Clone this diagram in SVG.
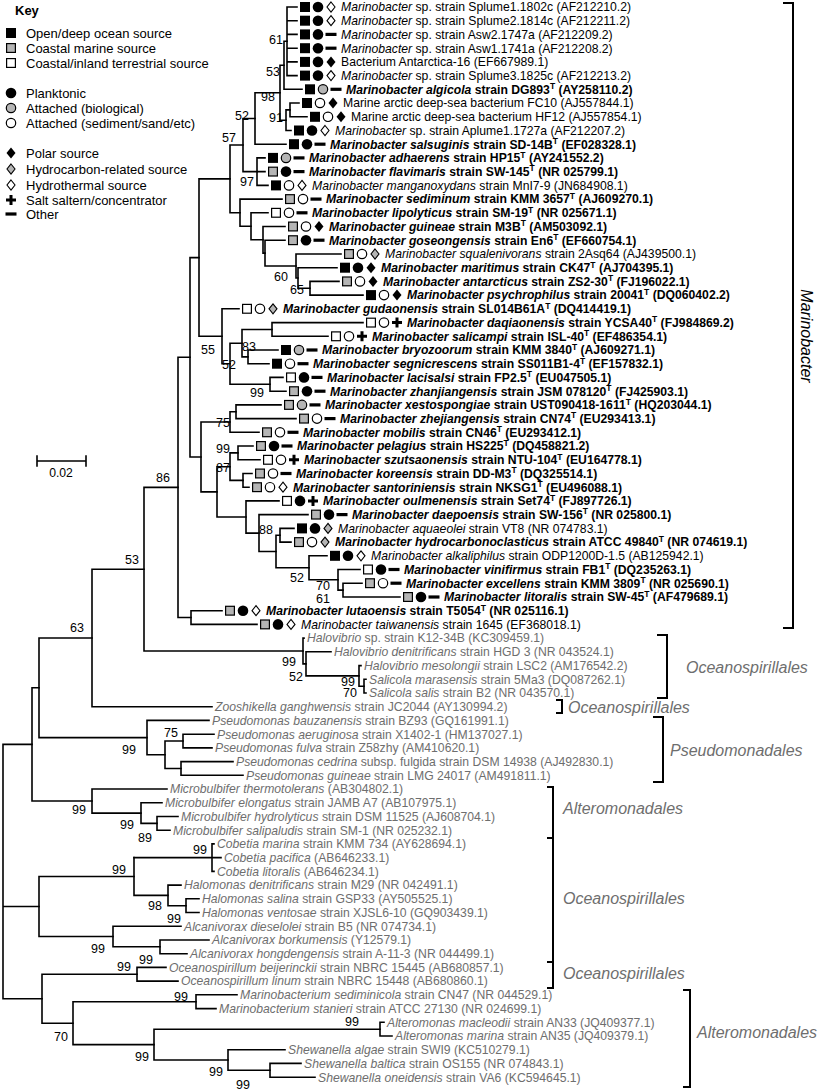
<svg xmlns="http://www.w3.org/2000/svg" width="820" height="1091" viewBox="0 0 820 1091">
<style>
.t{font-family:"Liberation Sans",Arial,sans-serif;font-size:12.2px;fill:#000}
.b{font-weight:bold}
.i{font-style:italic}
.g{fill:#6e6e6e}
.sp{font-size:8.5px}
.bs{font-family:"Liberation Sans",Arial,sans-serif;font-size:12.5px;text-anchor:end;fill:#000}
.ord{font-family:"Liberation Sans",Arial,sans-serif;font-size:16px;font-style:italic;fill:#6e6e6e}
.ln{fill:none;stroke:#000;stroke-width:1.6;stroke-linecap:square}
.br{fill:none;stroke:#000;stroke-width:2}
.key{font-family:"Liberation Sans",Arial,sans-serif;font-size:13px;fill:#000}
</style>
<defs>
<rect id="sB" x="-5" y="-5" width="10" height="10" fill="#000"/>
<rect id="sG" x="-4.4" y="-4.4" width="8.8" height="8.8" fill="#b5b5b5" stroke="#000" stroke-width="1.2"/>
<rect id="sW" x="-4.4" y="-4.4" width="8.8" height="8.8" fill="#fff" stroke="#000" stroke-width="1.2"/>
<circle id="cB" r="5.3" fill="#000"/>
<circle id="cG" r="4.7" fill="#b5b5b5" stroke="#000" stroke-width="1.2"/>
<circle id="cW" r="4.7" fill="#fff" stroke="#000" stroke-width="1.2"/>
<path id="dB" d="M0,-5.5L4.5,0L0,5.5L-4.5,0Z" fill="#000"/>
<path id="dG" d="M0,-5L4,0L0,5L-4,0Z" fill="#b5b5b5" stroke="#000" stroke-width="1.1"/>
<path id="dW" d="M0,-5L4,0L0,5L-4,0Z" fill="#fff" stroke="#000" stroke-width="1.1"/>
<rect id="ds" x="-5.5" y="-1.6" width="11" height="3.2" fill="#000"/>
<path id="pl" d="M-5,0H5M0,-5V5" stroke="#000" stroke-width="3" fill="none"/>
</defs>
<rect width="820" height="1091" fill="#fff"/>

<g id="key">
<text class="key b" x="15" y="15" font-size="14">Key</text>
<use href="#sB" x="11" y="33"/><text class="key" x="26" y="38">Open/deep ocean source</text>
<use href="#sG" x="11" y="48"/><text class="key" x="26" y="53">Coastal marine source</text>
<use href="#sW" x="11" y="63"/><text class="key" x="26" y="68">Coastal/inland terrestrial source</text>
<use href="#cB" x="11" y="93"/><text class="key" x="26" y="98">Planktonic</text>
<use href="#cG" x="11" y="108"/><text class="key" x="26" y="113">Attached (biological)</text>
<use href="#cW" x="11" y="123"/><text class="key" x="26" y="128">Attached (sediment/sand/etc)</text>
<use href="#dB" x="11" y="153"/><text class="key" x="26" y="158">Polar source</text>
<use href="#dG" x="11" y="169"/><text class="key" x="26" y="174">Hydrocarbon-related source</text>
<use href="#dW" x="11" y="185"/><text class="key" x="26" y="190">Hydrothermal source</text>
<use href="#pl" x="11" y="200"/><text class="key" x="26" y="205">Salt saltern/concentrator</text>
<use href="#ds" x="11" y="214"/><text class="key" x="26" y="219">Other</text>
</g>

<g id="scale">
<path class="ln" d="M37,456V466M37,461H86M86,456V466"/>
<text class="t" x="61" y="477" text-anchor="middle">0.02</text>
</g>

<g id="connectors" class="ln">
<path d="M287,7V75.6M287,7H297M287,20.7H297M287,34.4H297M287,48.2H297M287,61.9H297M287,75.6H297"/>
<path d="M284,41.3V89.3M284,41.3H287M284,89.3H302"/>
<path d="M290,103V116.8M290,103H299M290,116.8H307"/>
<path d="M286,109.9V130.5M286,109.9H290M286,130.5H291"/>
<path d="M280,65.3V120.2M280,65.3H284M280,120.2H286"/>
<path d="M255,92.8V144.2M255,92.8H280M255,144.2H286"/>
<path d="M257,157.9V185.4M257,157.9H265M257,171.6H265M257,185.4H268"/>
<path d="M243,118.5V171.6M243,118.5H255M243,171.6H257"/>
<path d="M230,145V212.7M230,145H243M230,212.7H240"/>
<path d="M240,199.1V226.3M240,199.1H282M240,226.3H251"/>
<path d="M251,212.8V239.8M251,212.8H268M251,239.8H263"/>
<path d="M263,226.5V253.1M263,226.5H285M263,253.1H265"/>
<path d="M265,240.2V266M265,240.2H285M265,266H296"/>
<path d="M296,254V278M296,254H341M296,278H298"/>
<path d="M298,267.7V288.3M298,267.7H337M298,288.3H310"/>
<path d="M310,281.4V295.1M310,281.4H339M310,295.1H363"/>
<path d="M272,322.6V336.3M272,322.6H363M272,336.3H328"/>
<path d="M248,350V363.7M248,350H278M248,363.7H269"/>
<path d="M242,329.5V356.9M242,329.5H272M242,356.9H248"/>
<path d="M270,377.4V391.2M270,377.4H283M270,391.2H286"/>
<path d="M230,343.2V384.3M230,343.2H242M230,384.3H270"/>
<path d="M222,308.8V363.8M222,308.8H239M222,363.8H230"/>
<path d="M199,178.9V336.3M199,178.9H230M199,336.3H222"/>
<path d="M236,404.9V418.6M236,404.9H281M236,418.6H296"/>
<path d="M230,411.8V432.3M230,411.8H236M230,432.3H259"/>
<path d="M238,446V459.8M238,446H253M238,459.8H260"/>
<path d="M243,473.5V487.2M243,473.5H252M243,487.2H249"/>
<path d="M230,452.9V480.4M230,452.9H238M230,480.4H243"/>
<path d="M280,528.4V542.1M280,528.4H294M280,542.1H291"/>
<path d="M343,583.2V597M343,583.2H362M343,597H400"/>
<path d="M338,569.5V590.1M338,569.5H360M338,590.1H343"/>
<path d="M309,555.8V579.8M309,555.8H327M309,579.8H338"/>
<path d="M276,535.3V567.8M276,535.3H280M276,567.8H309"/>
<path d="M259,514.6V551.5M259,514.6H308M259,551.5H276"/>
<path d="M246,500.9V533.1M246,500.9H279M246,533.1H259"/>
<path d="M217,466.7V517M217,466.7H230M217,517H246"/>
<path d="M201,422V491.9M201,422H230M201,491.9H217"/>
<path d="M190,257.6V457M190,257.6H199M190,457H201"/>
<path d="M191,610.7V624.4M191,610.7H222M191,624.4H257"/>
<path d="M178,357.3V617.5M178,357.3H190M178,617.5H191"/>
<path d="M364,679.3V693M364,679.3H366M364,693H366"/>
<path d="M359,665.6V686.2M359,665.6H361M359,686.2H364"/>
<path d="M306,651.8V675.9M306,651.8H331M306,675.9H359"/>
<path d="M303,638.1V663.9M303,638.1H304M303,663.9H306"/>
<path d="M144,487.4V651M144,487.4H178M144,651H303"/>
<path d="M92,569.2V706.7M92,569.2H144M92,706.7H212"/>
<path d="M183,734.2V747.9M183,734.2H214M183,747.9H212"/>
<path d="M181,761.6V775.3M181,761.6H233M181,775.3H243"/>
<path d="M165,741V768.5M165,741H183M165,768.5H181"/>
<path d="M147,720.4V754.7M147,720.4H209M147,754.7H165"/>
<path d="M39,638V737.6M39,638H92M39,737.6H147"/>
<path d="M157,816.5V830.2M157,816.5H178M157,830.2H170"/>
<path d="M141,802.8V823.4M141,802.8H162M141,823.4H157"/>
<path d="M92,789V813.1M92,789H167M92,813.1H141"/>
<path d="M32,687.8V801M32,687.8H39M32,801H92"/>
<path d="M212,843.9V871.4M212,843.9H214M134,857.6H221M212,871.4H214"/>
<path d="M186,898.8V912.5M186,898.8H199M186,912.5H199"/>
<path d="M168,885.1V905.7M168,885.1H181M168,905.7H186"/>
<path d="M134,857.6V895.4M134,895.4H168"/>
<path d="M160,940V953.7M160,940H209M160,953.7H187"/>
<path d="M113,926.2V946.8M113,926.2H181M113,946.8H160"/>
<path d="M39,876.5V936.5M39,876.5H134M39,936.5H113"/>
<path d="M137,967.4V981.1M137,967.4H166M137,981.1H178"/>
<path d="M196,994.8V1008.6M196,994.8H237M196,1008.6H216"/>
<path d="M380,1022.3V1036M380,1022.3H384M380,1036H392"/>
<path d="M270,1063.4V1077.2M270,1063.4H301M270,1077.2H315"/>
<path d="M228,1049.7V1070.3M228,1049.7H285M228,1070.3H270"/>
<path d="M154,1029.2V1060M154,1029.2H380M154,1060H228"/>
<path d="M73,1001.7V1044.6M73,1001.7H196M73,1044.6H154"/>
<path d="M42,974.3V1023.2M42,974.3H137M42,1023.2H73"/>
<path d="M3,744.4V998.7M3,744.4H32M3,906.5H39M3,998.7H42"/>
</g>

<g id="bootstrap">
<text class="bs" x="283" y="44">61</text>
<text class="bs" x="280" y="76">53</text>
<text class="bs" x="275" y="101">98</text>
<text class="bs" x="283" y="122">91</text>
<text class="bs" x="249" y="120">52</text>
<text class="bs" x="236" y="142">57</text>
<text class="bs" x="254" y="186">97</text>
<text class="bs" x="288" y="281">60</text>
<text class="bs" x="304" y="294">65</text>
<text class="bs" x="215" y="354">55</text>
<text class="bs" x="256" y="351">83</text>
<text class="bs" x="236" y="369">52</text>
<text class="bs" x="264" y="397">99</text>
<text class="bs" x="230" y="427">75</text>
<text class="bs" x="230" y="453">99</text>
<text class="bs" x="230" y="472">87</text>
<text class="bs" x="273" y="534">88</text>
<text class="bs" x="304" y="582">52</text>
<text class="bs" x="330" y="590">70</text>
<text class="bs" x="330" y="603">61</text>
<text class="bs" x="170" y="482">86</text>
<text class="bs" x="139" y="564">53</text>
<text class="bs" x="84" y="632">63</text>
<text class="bs" x="296" y="666">99</text>
<text class="bs" x="303" y="681">52</text>
<text class="bs" x="355" y="685.5" font-size="10.5">99</text>
<text class="bs" x="357" y="697.3" font-size="10.5">70</text>
<text class="bs" x="136" y="754">99</text>
<text class="bs" x="178" y="737">75</text>
<text class="bs" x="86" y="814">99</text>
<text class="bs" x="134" y="829">99</text>
<text class="bs" x="152" y="842">89</text>
<text class="bs" x="207" y="854">99</text>
<text class="bs" x="126" y="874">99</text>
<text class="bs" x="162" y="910">98</text>
<text class="bs" x="181" y="923">99</text>
<text class="bs" x="105" y="953">99</text>
<text class="bs" x="153" y="964">99</text>
<text class="bs" x="131" y="971">99</text>
<text class="bs" x="188" y="1001">99</text>
<text class="bs" x="359" y="1026">99</text>
<text class="bs" x="68" y="1041">70</text>
<text class="bs" x="149" y="1061">99</text>
<text class="bs" x="223" y="1076">99</text>
<text class="bs" x="250" y="1089">99</text>
</g>

<g id="r0" transform="translate(341,7)"><use href="#sB" x="-36"/><use href="#cB" x="-23"/><use href="#dW" x="-10"/><text class="t" y="4.3"><tspan class="i">Marinobacter</tspan> sp. strain Splume1.1802c (AF212210.2)</text></g>
<g id="r1" transform="translate(341,20.7)"><use href="#sB" x="-36"/><use href="#cB" x="-23"/><use href="#dW" x="-10"/><text class="t" y="4.3"><tspan class="i">Marinobacter</tspan> sp. strain Splume2.1814c (AF212211.2)</text></g>
<g id="r2" transform="translate(341,34.4)"><use href="#sB" x="-36"/><use href="#cB" x="-23"/><use href="#ds" x="-10"/><text class="t" y="4.3"><tspan class="i">Marinobacter</tspan> sp. strain Asw2.1747a (AF212209.2)</text></g>
<g id="r3" transform="translate(341,48.2)"><use href="#sB" x="-36"/><use href="#cB" x="-23"/><use href="#ds" x="-10"/><text class="t" y="4.3"><tspan class="i">Marinobacter</tspan> sp. strain Asw1.1741a (AF212208.2)</text></g>
<g id="r4" transform="translate(341,61.9)"><use href="#sB" x="-36"/><use href="#cB" x="-23"/><use href="#dB" x="-10"/><text class="t" y="4.3">Bacterium Antarctica-16 (EF667989.1)</text></g>
<g id="r5" transform="translate(341,75.6)"><use href="#sB" x="-36"/><use href="#cB" x="-23"/><use href="#dW" x="-10"/><text class="t" y="4.3"><tspan class="i">Marinobacter</tspan> sp. strain Splume3.1825c (AF212213.2)</text></g>
<g id="r6" transform="translate(346,89.3)"><use href="#sB" x="-36"/><use href="#cG" x="-23"/><use href="#ds" x="-10"/><text class="t b" y="4.3"><tspan class="i">Marinobacter algicola</tspan> strain DG893<tspan class="sp" dy="-4.5">T</tspan><tspan dy="4.5"> (AY258110.2)</tspan></text></g>
<g id="r7" transform="translate(343,103)"><use href="#sB" x="-36"/><use href="#cW" x="-23"/><use href="#dB" x="-10"/><text class="t" y="4.3">Marine arctic deep-sea bacterium FC10 (AJ557844.1)</text></g>
<g id="r8" transform="translate(351,116.8)"><use href="#sB" x="-36"/><use href="#cW" x="-23"/><use href="#dB" x="-10"/><text class="t" y="4.3">Marine arctic deep-sea bacterium HF12 (AJ557854.1)</text></g>
<g id="r9" transform="translate(335,130.5)"><use href="#sB" x="-36"/><use href="#cB" x="-23"/><use href="#dW" x="-10"/><text class="t" y="4.3"><tspan class="i">Marinobacter</tspan> sp. strain Aplume1.1727a (AF212207.2)</text></g>
<g id="r10" transform="translate(330,144.2)"><use href="#sB" x="-36"/><use href="#cB" x="-23"/><use href="#ds" x="-10"/><text class="t b" y="4.3"><tspan class="i">Marinobacter salsuginis</tspan> strain SD-14B<tspan class="sp" dy="-4.5">T</tspan><tspan dy="4.5"> (EF028328.1)</tspan></text></g>
<g id="r11" transform="translate(309,157.9)"><use href="#sB" x="-36"/><use href="#cG" x="-23"/><use href="#ds" x="-10"/><text class="t b" y="4.3"><tspan class="i">Marinobacter adhaerens</tspan> strain HP15<tspan class="sp" dy="-4.5">T</tspan><tspan dy="4.5"> (AY241552.2)</tspan></text></g>
<g id="r12" transform="translate(309,171.6)"><use href="#sG" x="-36"/><use href="#cB" x="-23"/><use href="#ds" x="-10"/><text class="t b" y="4.3"><tspan class="i">Marinobacter flavimaris</tspan> strain SW-145<tspan class="sp" dy="-4.5">T</tspan><tspan dy="4.5"> (NR 025799.1)</tspan></text></g>
<g id="r13" transform="translate(312,185.4)"><use href="#sB" x="-36"/><use href="#cW" x="-23"/><use href="#dW" x="-10"/><text class="t" y="4.3"><tspan class="i">Marinobacter manganoxydans</tspan> strain MnI7-9 (JN684908.1)</text></g>
<g id="r14" transform="translate(326,199.1)"><use href="#sG" x="-36"/><use href="#cW" x="-23"/><use href="#ds" x="-10"/><text class="t b" y="4.3"><tspan class="i">Marinobacter sediminum</tspan> strain KMM 3657<tspan class="sp" dy="-4.5">T</tspan><tspan dy="4.5"> (AJ609270.1)</tspan></text></g>
<g id="r15" transform="translate(312,212.8)"><use href="#sW" x="-36"/><use href="#cW" x="-23"/><use href="#ds" x="-10"/><text class="t b" y="4.3"><tspan class="i">Marinobacter lipolyticus</tspan> strain SM-19<tspan class="sp" dy="-4.5">T</tspan><tspan dy="4.5"> (NR 025671.1)</tspan></text></g>
<g id="r16" transform="translate(329,226.5)"><use href="#sG" x="-36"/><use href="#cW" x="-23"/><use href="#dB" x="-10"/><text class="t b" y="4.3"><tspan class="i">Marinobacter guineae</tspan> strain M3B<tspan class="sp" dy="-4.5">T</tspan><tspan dy="4.5"> (AM503092.1)</tspan></text></g>
<g id="r17" transform="translate(329,240.2)"><use href="#sG" x="-36"/><use href="#cB" x="-23"/><use href="#ds" x="-10"/><text class="t b" y="4.3"><tspan class="i">Marinobacter goseongensis</tspan> strain En6<tspan class="sp" dy="-4.5">T</tspan><tspan dy="4.5"> (EF660754.1)</tspan></text></g>
<g id="r18" transform="translate(385,254)"><use href="#sG" x="-36"/><use href="#cW" x="-23"/><use href="#dG" x="-10"/><text class="t" y="4.3"><tspan class="i">Marinobacter squalenivorans</tspan> strain 2Asq64 (AJ439500.1)</text></g>
<g id="r19" transform="translate(381,267.7)"><use href="#sB" x="-36"/><use href="#cB" x="-23"/><use href="#dB" x="-10"/><text class="t b" y="4.3"><tspan class="i">Marinobacter maritimus</tspan> strain CK47<tspan class="sp" dy="-4.5">T</tspan><tspan dy="4.5"> (AJ704395.1)</tspan></text></g>
<g id="r20" transform="translate(383,281.4)"><use href="#sG" x="-36"/><use href="#cW" x="-23"/><use href="#dB" x="-10"/><text class="t b" y="4.3"><tspan class="i">Marinobacter antarcticus</tspan> strain ZS2-30<tspan class="sp" dy="-4.5">T</tspan><tspan dy="4.5"> (FJ196022.1)</tspan></text></g>
<g id="r21" transform="translate(407,295.1)"><use href="#sB" x="-36"/><use href="#cW" x="-23"/><use href="#dB" x="-10"/><text class="t b" y="4.3"><tspan class="i">Marinobacter psychrophilus</tspan> strain 20041<tspan class="sp" dy="-4.5">T</tspan><tspan dy="4.5"> (DQ060402.2)</tspan></text></g>
<g id="r22" transform="translate(283,308.8)"><use href="#sW" x="-36"/><use href="#cW" x="-23"/><use href="#dG" x="-10"/><text class="t b" y="4.3"><tspan class="i">Marinobacter gudaonensis</tspan> strain SL014B61A<tspan class="sp" dy="-4.5">T</tspan><tspan dy="4.5"> (DQ414419.1)</tspan></text></g>
<g id="r23" transform="translate(407,322.6)"><use href="#sW" x="-36"/><use href="#cW" x="-23"/><use href="#pl" x="-10"/><text class="t b" y="4.3"><tspan class="i">Marinobacter daqiaonensis</tspan> strain YCSA40<tspan class="sp" dy="-4.5">T</tspan><tspan dy="4.5"> (FJ984869.2)</tspan></text></g>
<g id="r24" transform="translate(372,336.3)"><use href="#sW" x="-36"/><use href="#cW" x="-23"/><use href="#pl" x="-10"/><text class="t b" y="4.3"><tspan class="i">Marinobacter salicampi</tspan> strain ISL-40<tspan class="sp" dy="-4.5">T</tspan><tspan dy="4.5"> (EF486354.1)</tspan></text></g>
<g id="r25" transform="translate(322,350)"><use href="#sB" x="-36"/><use href="#cG" x="-23"/><use href="#ds" x="-10"/><text class="t b" y="4.3"><tspan class="i">Marinobacter bryozoorum</tspan> strain KMM 3840<tspan class="sp" dy="-4.5">T</tspan><tspan dy="4.5"> (AJ609271.1)</tspan></text></g>
<g id="r26" transform="translate(313,363.7)"><use href="#sB" x="-36"/><use href="#cW" x="-23"/><use href="#ds" x="-10"/><text class="t b" y="4.3"><tspan class="i">Marinobacter segnicrescens</tspan> strain SS011B1-4<tspan class="sp" dy="-4.5">T</tspan><tspan dy="4.5"> (EF157832.1)</tspan></text></g>
<g id="r27" transform="translate(327,377.4)"><use href="#sW" x="-36"/><use href="#cB" x="-23"/><use href="#ds" x="-10"/><text class="t b" y="4.3"><tspan class="i">Marinobacter lacisalsi</tspan> strain FP2.5<tspan class="sp" dy="-4.5">T</tspan><tspan dy="4.5"> (EU047505.1)</tspan></text></g>
<g id="r28" transform="translate(330,391.2)"><use href="#sG" x="-36"/><use href="#cB" x="-23"/><use href="#ds" x="-10"/><text class="t b" y="4.3"><tspan class="i">Marinobacter zhanjiangensis</tspan> strain JSM 078120<tspan class="sp" dy="-4.5">T</tspan><tspan dy="4.5"> (FJ425903.1)</tspan></text></g>
<g id="r29" transform="translate(325,404.9)"><use href="#sG" x="-36"/><use href="#cG" x="-23"/><use href="#ds" x="-10"/><text class="t b" y="4.3"><tspan class="i">Marinobacter xestospongiae</tspan> strain UST090418-1611<tspan class="sp" dy="-4.5">T</tspan><tspan dy="4.5"> (HQ203044.1)</tspan></text></g>
<g id="r30" transform="translate(340,418.6)"><use href="#sG" x="-36"/><use href="#cW" x="-23"/><use href="#ds" x="-10"/><text class="t b" y="4.3"><tspan class="i">Marinobacter zhejiangensis</tspan> strain CN74<tspan class="sp" dy="-4.5">T</tspan><tspan dy="4.5"> (EU293413.1)</tspan></text></g>
<g id="r31" transform="translate(303,432.3)"><use href="#sG" x="-36"/><use href="#cW" x="-23"/><use href="#ds" x="-10"/><text class="t b" y="4.3"><tspan class="i">Marinobacter mobilis</tspan> strain CN46<tspan class="sp" dy="-4.5">T</tspan><tspan dy="4.5"> (EU293412.1)</tspan></text></g>
<g id="r32" transform="translate(297,446)"><use href="#sG" x="-36"/><use href="#cB" x="-23"/><use href="#ds" x="-10"/><text class="t b" y="4.3"><tspan class="i">Marinobacter pelagius</tspan> strain HS225<tspan class="sp" dy="-4.5">T</tspan><tspan dy="4.5"> (DQ458821.2)</tspan></text></g>
<g id="r33" transform="translate(304,459.8)"><use href="#sW" x="-36"/><use href="#cW" x="-23"/><use href="#pl" x="-10"/><text class="t b" y="4.3"><tspan class="i">Marinobacter szutsaonensis</tspan> strain NTU-104<tspan class="sp" dy="-4.5">T</tspan><tspan dy="4.5"> (EU164778.1)</tspan></text></g>
<g id="r34" transform="translate(296,473.5)"><use href="#sG" x="-36"/><use href="#cW" x="-23"/><use href="#ds" x="-10"/><text class="t b" y="4.3"><tspan class="i">Marinobacter koreensis</tspan> strain DD-M3<tspan class="sp" dy="-4.5">T</tspan><tspan dy="4.5"> (DQ325514.1)</tspan></text></g>
<g id="r35" transform="translate(293,487.2)"><use href="#sG" x="-36"/><use href="#cW" x="-23"/><use href="#dW" x="-10"/><text class="t b" y="4.3"><tspan class="i">Marinobacter santoriniensis</tspan> strain NKSG1<tspan class="sp" dy="-4.5">T</tspan><tspan dy="4.5"> (EU496088.1)</tspan></text></g>
<g id="r36" transform="translate(323,500.9)"><use href="#sW" x="-36"/><use href="#cB" x="-23"/><use href="#pl" x="-10"/><text class="t b" y="4.3"><tspan class="i">Marinobacter oulmenensis</tspan> strain Set74<tspan class="sp" dy="-4.5">T</tspan><tspan dy="4.5"> (FJ897726.1)</tspan></text></g>
<g id="r37" transform="translate(352,514.6)"><use href="#sG" x="-36"/><use href="#cB" x="-23"/><use href="#ds" x="-10"/><text class="t b" y="4.3"><tspan class="i">Marinobacter daepoensis</tspan> strain SW-156<tspan class="sp" dy="-4.5">T</tspan><tspan dy="4.5"> (NR 025800.1)</tspan></text></g>
<g id="r38" transform="translate(338,528.4)"><use href="#sB" x="-36"/><use href="#cB" x="-23"/><use href="#dG" x="-10"/><text class="t" y="4.3"><tspan class="i">Marinobacter aquaeolei</tspan> strain VT8 (NR 074783.1)</text></g>
<g id="r39" transform="translate(335,542.1)"><use href="#sG" x="-36"/><use href="#cW" x="-23"/><use href="#dG" x="-10"/><text class="t b" y="4.3"><tspan class="i">Marinobacter hydrocarbonoclasticus</tspan> strain ATCC 49840<tspan class="sp" dy="-4.5">T</tspan><tspan dy="4.5"> (NR 074619.1)</tspan></text></g>
<g id="r40" transform="translate(371,555.8)"><use href="#sB" x="-36"/><use href="#cB" x="-23"/><use href="#dW" x="-10"/><text class="t" y="4.3"><tspan class="i">Marinobacter alkaliphilus</tspan> strain ODP1200D-1.5 (AB125942.1)</text></g>
<g id="r41" transform="translate(404,569.5)"><use href="#sW" x="-36"/><use href="#cB" x="-23"/><use href="#ds" x="-10"/><text class="t b" y="4.3"><tspan class="i">Marinobacter vinifirmus</tspan> strain FB1<tspan class="sp" dy="-4.5">T</tspan><tspan dy="4.5"> (DQ235263.1)</tspan></text></g>
<g id="r42" transform="translate(406,583.2)"><use href="#sG" x="-36"/><use href="#cW" x="-23"/><use href="#ds" x="-10"/><text class="t b" y="4.3"><tspan class="i">Marinobacter excellens</tspan> strain KMM 3809<tspan class="sp" dy="-4.5">T</tspan><tspan dy="4.5"> (NR 025690.1)</tspan></text></g>
<g id="r43" transform="translate(444,597)"><use href="#sG" x="-36"/><use href="#cB" x="-23"/><use href="#ds" x="-10"/><text class="t b" y="4.3"><tspan class="i">Marinobacter litoralis</tspan> strain SW-45<tspan class="sp" dy="-4.5">T</tspan><tspan dy="4.5"> (AF479689.1)</tspan></text></g>
<g id="r44" transform="translate(266,610.7)"><use href="#sG" x="-36"/><use href="#cB" x="-23"/><use href="#dW" x="-10"/><text class="t b" y="4.3"><tspan class="i">Marinobacter lutaoensis</tspan> strain T5054<tspan class="sp" dy="-4.5">T</tspan><tspan dy="4.5"> (NR 025116.1)</tspan></text></g>
<g id="r45" transform="translate(301,624.4)"><use href="#sG" x="-36"/><use href="#cB" x="-23"/><use href="#dW" x="-10"/><text class="t" y="4.3"><tspan class="i">Marinobacter taiwanensis</tspan> strain 1645 (EF368018.1)</text></g>

<g id="r46" transform="translate(307,638.1)"><text class="t g" y="4.3"><tspan class="i">Halovibrio</tspan> sp. strain K12-34B (KC309459.1)</text></g>
<g id="r47" transform="translate(334,651.8)"><text class="t g" y="4.3"><tspan class="i">Halovibrio denitrificans</tspan> strain HGD 3 (NR 043524.1)</text></g>
<g id="r48" transform="translate(364,665.6)"><text class="t g" y="4.3"><tspan class="i">Halovibrio mesolongii</tspan> strain LSC2 (AM176542.2)</text></g>
<g id="r49" transform="translate(369,679.3)"><text class="t g" y="4.3"><tspan class="i">Salicola marasensis</tspan> strain 5Ma3 (DQ087262.1)</text></g>
<g id="r50" transform="translate(369,693)"><text class="t g" y="4.3"><tspan class="i">Salicola salis</tspan> strain B2 (NR 043570.1)</text></g>
<g id="r51" transform="translate(215,706.7)"><text class="t g" y="4.3"><tspan class="i">Zooshikella ganghwensis</tspan> strain JC2044 (AY130994.2)</text></g>
<g id="r52" transform="translate(212,720.4)"><text class="t g" y="4.3"><tspan class="i">Pseudomonas bauzanensis</tspan> strain BZ93 (GQ161991.1)</text></g>
<g id="r53" transform="translate(217,734.2)"><text class="t g" y="4.3"><tspan class="i">Pseudomonas aeruginosa</tspan> strain X1402-1 (HM137027.1)</text></g>
<g id="r54" transform="translate(215,747.9)"><text class="t g" y="4.3"><tspan class="i">Pseudomonas fulva</tspan> strain Z58zhy (AM410620.1)</text></g>
<g id="r55" transform="translate(236,761.6)"><text class="t g" y="4.3"><tspan class="i">Pseudomonas cedrina</tspan> subsp. fulgida strain DSM 14938 (AJ492830.1)</text></g>
<g id="r56" transform="translate(246,775.3)"><text class="t g" y="4.3"><tspan class="i">Pseudomonas guineae</tspan> strain LMG 24017 (AM491811.1)</text></g>
<g id="r57" transform="translate(170,789)"><text class="t g" y="4.3"><tspan class="i">Microbulbifer thermotolerans</tspan> (AB304802.1)</text></g>
<g id="r58" transform="translate(165,802.8)"><text class="t g" y="4.3"><tspan class="i">Microbulbifer elongatus</tspan> strain JAMB A7 (AB107975.1)</text></g>
<g id="r59" transform="translate(181,816.5)"><text class="t g" y="4.3"><tspan class="i">Microbulbifer hydrolyticus</tspan> strain DSM 11525 (AJ608704.1)</text></g>
<g id="r60" transform="translate(173,830.2)"><text class="t g" y="4.3"><tspan class="i">Microbulbifer salipaludis</tspan> strain SM-1 (NR 025232.1)</text></g>
<g id="r61" transform="translate(217,843.9)"><text class="t g" y="4.3"><tspan class="i">Cobetia marina</tspan> strain KMM 734 (AY628694.1)</text></g>
<g id="r62" transform="translate(224,857.6)"><text class="t g" y="4.3"><tspan class="i">Cobetia pacifica</tspan> (AB646233.1)</text></g>
<g id="r63" transform="translate(217,871.4)"><text class="t g" y="4.3"><tspan class="i">Cobetia litoralis</tspan> (AB646234.1)</text></g>
<g id="r64" transform="translate(184,885.1)"><text class="t g" y="4.3"><tspan class="i">Halomonas denitrificans</tspan> strain M29 (NR 042491.1)</text></g>
<g id="r65" transform="translate(202,898.8)"><text class="t g" y="4.3"><tspan class="i">Halomonas salina</tspan> strain GSP33 (AY505525.1)</text></g>
<g id="r66" transform="translate(202,912.5)"><text class="t g" y="4.3"><tspan class="i">Halomonas ventosae</tspan> strain XJSL6-10 (GQ903439.1)</text></g>
<g id="r67" transform="translate(184,926.2)"><text class="t g" y="4.3"><tspan class="i">Alcanivorax dieselolei</tspan> strain B5 (NR 074734.1)</text></g>
<g id="r68" transform="translate(212,940)"><text class="t g" y="4.3"><tspan class="i">Alcanivorax borkumensis</tspan> (Y12579.1)</text></g>
<g id="r69" transform="translate(190,953.7)"><text class="t g" y="4.3"><tspan class="i">Alcanivorax hongdengensis</tspan> strain A-11-3 (NR 044499.1)</text></g>
<g id="r70" transform="translate(169,967.4)"><text class="t g" y="4.3"><tspan class="i">Oceanospirillum beijerinckii</tspan> strain NBRC 15445 (AB680857.1)</text></g>
<g id="r71" transform="translate(181,981.1)"><text class="t g" y="4.3"><tspan class="i">Oceanospirillum linum</tspan> strain NBRC 15448 (AB680860.1)</text></g>
<g id="r72" transform="translate(240,994.8)"><text class="t g" y="4.3"><tspan class="i">Marinobacterium sediminicola</tspan> strain CN47 (NR 044529.1)</text></g>
<g id="r73" transform="translate(219,1008.6)"><text class="t g" y="4.3"><tspan class="i">Marinobacterium stanieri</tspan> strain ATCC 27130 (NR 024699.1)</text></g>
<g id="r74" transform="translate(387,1022.3)"><text class="t g" y="4.3"><tspan class="i">Alteromonas macleodii</tspan> strain AN33 (JQ409377.1)</text></g>
<g id="r75" transform="translate(395,1036)"><text class="t g" y="4.3"><tspan class="i">Alteromonas marina</tspan> strain AN35 (JQ409379.1)</text></g>
<g id="r76" transform="translate(288,1049.7)"><text class="t g" y="4.3"><tspan class="i">Shewanella algae</tspan> strain SWI9 (KC510279.1)</text></g>
<g id="r77" transform="translate(304,1063.4)"><text class="t g" y="4.3"><tspan class="i">Shewanella baltica</tspan> strain OS155 (NR 074843.1)</text></g>
<g id="r78" transform="translate(318,1077.2)"><text class="t g" y="4.3"><tspan class="i">Shewanella oneidensis</tspan> strain VA6 (KC594645.1)</text></g>

<g id="brackets" class="br">
<path d="M783,3H793V628H783"/>
<path d="M657,635H667V698H657"/>
<path d="M556,700H562V713H556"/>
<path d="M653,717H663V782H653"/>
<path d="M547,787H553V988H547M547,838H553M547,962H553"/>
<path d="M683,990H690V1087H683"/>
</g>
<g id="orders">
<text class="ord" transform="translate(801,336) rotate(90)" text-anchor="middle" style="fill:#000">Marinobacter</text>
<text class="ord" x="686" y="673">Oceanospirillales</text>
<text class="ord" x="568" y="713">Oceanospirillales</text>
<text class="ord" x="670" y="756">Pseudomonadales</text>
<text class="ord" x="563" y="814">Alteromonadales</text>
<text class="ord" x="563" y="904">Oceanospirillales</text>
<text class="ord" x="563" y="979">Oceanospirillales</text>
<text class="ord" x="697" y="1038">Alteromonadales</text>
</g>
</svg>
